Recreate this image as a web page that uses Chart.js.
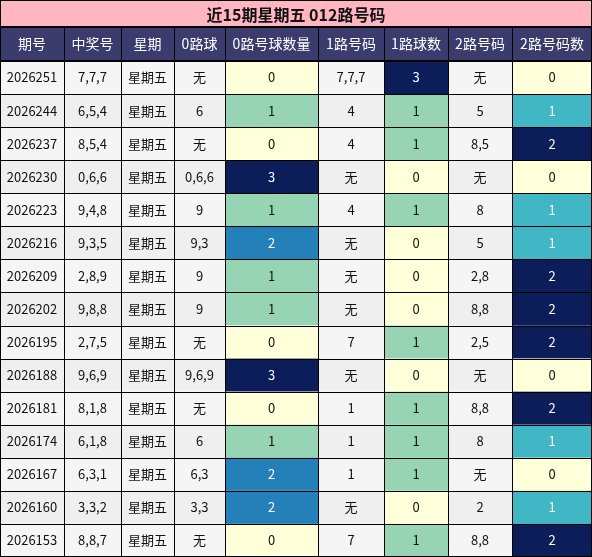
<!DOCTYPE html><html><head><meta charset="utf-8">
<script src="https://cdn.jsdelivr.net/npm/chart.js@4"></script>
<style>html,body{margin:0;padding:0;background:#fff}#w{width:592px;height:557px}</style></head><body>
<div id="w"><canvas id="c"></canvas></div>
<script>
const title = "近15期星期五 012路号码";
const headers = ["期号","中奖号","星期","0路球","0路号球数量","1路号码","1路球数","2路号码","2路号码数"];
const periods = ["2026251","2026244","2026237","2026230","2026223","2026216","2026209","2026202","2026195","2026188","2026181","2026174","2026167","2026160","2026153"];
const draws = ["7,7,7","6,5,4","8,5,4","0,6,6","9,4,8","9,3,5","2,8,9","9,8,8","2,7,5","9,6,9","8,1,8","6,1,8","6,3,1","3,3,2","8,8,7"];
const weekday = "星期五";
const road0 = ["无","6","无","0,6,6","9","9,3","9","9","无","9,6,9","无","6","6,3","3,3","无"];
const road0Count = [0,1,0,3,1,2,1,1,0,3,0,1,2,2,0];
const road1 = ["7,7,7","4","4","无","4","无","无","无","7","无","1","1","1","无","7"];
const road1Count = [3,1,1,0,1,0,0,0,1,0,1,1,1,0,1];
const road2 = ["无","5","8,5","无","8","5","2,8","8,8","2,5","无","8,8","8","无","2","8,8"];
const road2Count = [0,1,2,0,1,1,2,2,2,0,2,1,0,1,2];

const edges = [0,64,121,174,225,318,384,448,512,592];
const titleH = 27, headH = 34;
const rowH = (557-titleH-headH)/periods.length;
const palA = {0:"#ffffd9",1:"#96d4b4",2:"#2480b9",3:"#0b1e5a"};
const palB = {0:"#ffffd9",1:"#41b6c4",2:"#0b1e5a",3:"#0b1e5a"};

const pts = [];
periods.forEach((p,i)=>{for(let c=0;c<9;c++)pts.push({x:(edges[c]+edges[c+1])/2,y:titleH+headH+(i+0.5)*rowH,r:i,c:c});});

function cellText(r,c){
  return [periods[r],draws[r],weekday,road0[r],String(road0Count[r]),road1[r],String(road1Count[r]),road2[r],String(road2Count[r])][c];
}
function cellFill(r,c){
  if(c===4) return palA[road0Count[r]];
  if(c===6) return palA[road1Count[r]];
  if(c===8) return palB[road2Count[r]];
  return r%2===0?"#f5f5f5":"#efefef";
}
function light(col){return col==="#ffffd9"||col==="#96d4b4"||col==="#f5f5f5"||col==="#efefef";}

const tablePlugin = {id:"table",beforeDatasetsDraw(chart){
  const ctx=chart.ctx, xs=chart.scales.x, ys=chart.scales.y;
  const X=v=>xs.getPixelForValue(v), Y=v=>ys.getPixelForValue(v);
  ctx.save();
  ctx.textAlign="center";ctx.textBaseline="middle";
  // title
  ctx.fillStyle="#ffb6c1";ctx.fillRect(X(0),Y(0),X(592)-X(0),Y(titleH)-Y(0));
  ctx.fillStyle="#111";ctx.font="bold 16px 'Noto Sans CJK SC'";
  ctx.fillText(title,X(296),Y(titleH/2)+1);
  // header
  ctx.fillStyle="#3b3b6d";ctx.fillRect(X(0),Y(titleH),X(592)-X(0),Y(titleH+headH)-Y(titleH));
  ctx.fillStyle="#fff";ctx.font="14px 'Noto Sans CJK SC'";
  headers.forEach((h,c)=>ctx.fillText(h,X((edges[c]+edges[c+1])/2),Y(titleH+headH/2)));
  // cells
  chart.data.datasets[0].data.forEach(p=>{
    const x0=X(edges[p.c]),x1=X(edges[p.c+1]),y0=Y(p.y-rowH/2),y1=Y(p.y+rowH/2);
    const f=cellFill(p.r,p.c);ctx.fillStyle=f;ctx.fillRect(x0,y0,x1-x0,y1-y0);
    ctx.fillStyle=light(f)?"#111":"#fff";ctx.font="13px 'Noto Sans CJK SC'";
    ctx.fillText(cellText(p.r,p.c),X(p.x),Y(p.y));
  });
  // grid lines
  ctx.strokeStyle="#000";ctx.lineWidth=1;ctx.beginPath();
  const hl=[0,titleH,titleH+headH];for(let i=1;i<=periods.length;i++)hl.push(titleH+headH+i*rowH);
  hl.forEach(v=>{let y=Math.round(Y(Math.min(v,556.5)))+0.5;if(y>556)y=556.5;ctx.moveTo(X(0),y);ctx.lineTo(X(592),y);});
  edges.forEach((e,i)=>{let x=Math.round(X(Math.min(e,591)))+0.5;const top=i===0||i===9?0:titleH;ctx.moveTo(x,Y(top));ctx.lineTo(x,Y(557));});
  ctx.stroke();
  ctx.lineWidth=2;ctx.beginPath();ctx.moveTo(X(0),Y(titleH));ctx.lineTo(X(592),Y(titleH));ctx.moveTo(X(0),Y(titleH+headH));ctx.lineTo(X(592),Y(titleH+headH));ctx.stroke();
  ctx.restore();
}};

new Chart(document.getElementById("c"),{
  type:"scatter",
  data:{datasets:[{data:pts,pointRadius:0,pointHoverRadius:0}]},
  options:{responsive:true,maintainAspectRatio:false,animation:false,
    layout:{padding:0},
    plugins:{legend:{display:false},tooltip:{enabled:false}},
    scales:{x:{type:"linear",min:0,max:592,display:false},y:{type:"linear",min:0,max:557,reverse:true,display:false}}},
  plugins:[tablePlugin]
});
</script></body></html>
